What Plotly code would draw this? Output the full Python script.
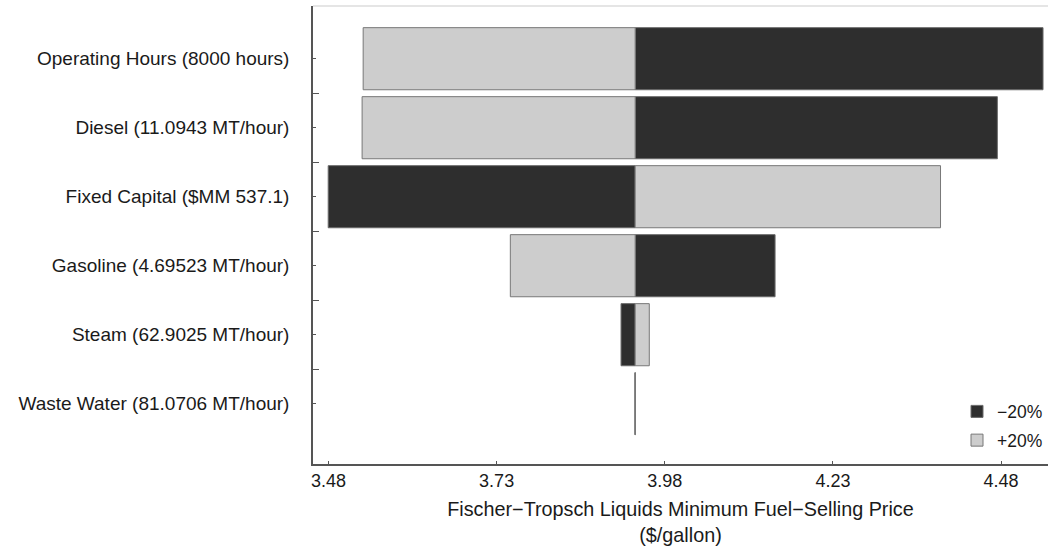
import plotly.graph_objects as go

categories = [
    "Operating Hours (8000 hours)",
    "Diesel (11.0943 MT/hour)",
    "Fixed Capital ($MM 537.1)",
    "Gasoline (4.69523 MT/hour)",
    "Steam (62.9025 MT/hour)",
    "Waste Water (81.0706 MT/hour)",
]
baseline = 3.936
minus20 = [4.5424, 4.4745, 3.4796, 4.144, 3.915, 3.9357]
plus20 = [3.5316, 3.530, 4.390, 3.7504, 3.957, 3.9363]
x_ticks = [3.48, 3.73, 3.98, 4.23, 4.48]

ypos = list(range(len(categories)))
font = "Liberation Sans, Arial, sans-serif"

fig = go.Figure()
fig.add_trace(go.Bar(
    name="\u221220%", orientation="h", y=ypos, legendgroup="a",
    x=[v - baseline for v in minus20], base=baseline, width=0.9,
    marker=dict(color="#2e2e2e", line=dict(color="#6a6a6a", width=1)),
))
fig.add_trace(go.Bar(
    name="+20%", orientation="h", y=ypos, legendgroup="b",
    x=[v - baseline for v in plus20], base=baseline, width=0.9,
    marker=dict(color="#cdcdcd", line=dict(color="#777777", width=1)),
))

fig.update_layout(
    width=1048, height=551,
    margin=dict(l=313, r=0, t=6, b=87),
    plot_bgcolor="white", paper_bgcolor="white",
    barmode="overlay",
    font=dict(family=font, size=17, color="#1a1a1a"),
    showlegend=True,
    legend=dict(x=1.0, xanchor="right", y=0.012, yanchor="bottom",
                traceorder="grouped", tracegroupgap=3,
                font=dict(family=font, size=17.5), itemwidth=30,
                bgcolor="rgba(0,0,0,0)"),
    xaxis=dict(
        range=[3.457, 4.5498], tickmode="array", tickvals=x_ticks,
        ticktext=[f"{t:.2f}" for t in x_ticks],
        ticks="inside", ticklen=3, tickcolor="#555", showgrid=False,
        zeroline=False, showline=True, linecolor="#555", linewidth=1.5,
        tickfont=dict(family=font, size=18),
        title=dict(text="Fischer\u2212Tropsch Liquids Minimum Fuel\u2212Selling Price<br>($/gallon)",
                   standoff=12, font=dict(family=font, size=19.8, color="#1a1a1a")),
        ticklabelstandoff=0,
    ),
    yaxis=dict(
        range=[5.874, -0.764], tickmode="array", tickvals=ypos, ticktext=categories,
        ticks="inside", ticklen=3, tickcolor="#555", showgrid=False,
        zeroline=False, showline=True, linecolor="#555", linewidth=1.5,
        tickfont=dict(family=font, size=19),
        ticklabelstandoff=18,
        minor=dict(tickmode="array", tickvals=[0.5, 1.5, 2.5, 3.5, 4.5],
                   ticks="inside", ticklen=6, tickcolor="#555", showgrid=False),
    ),
    shapes=[dict(type="line", xref="paper", yref="paper", x0=0, x1=1, y0=1, y1=1,
                 line=dict(color="#dcdcdc", width=1.5))],
)

fig.write_html("out.html")
